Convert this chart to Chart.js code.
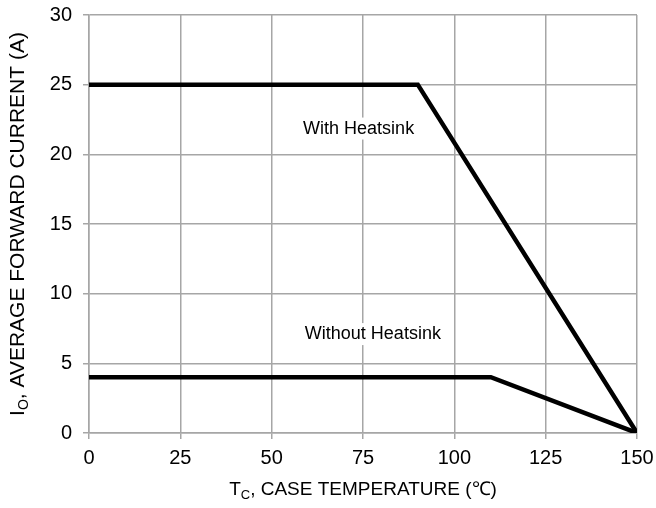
<!DOCTYPE html>
<html><head><meta charset="utf-8">
<script src="https://cdn.jsdelivr.net/npm/chart.js@4/dist/chart.umd.min.js"></script>
<style>html,body{margin:0;padding:0;background:#fff}#wrap{width:656px;height:508px}</style>
</head><body><div id="wrap"><canvas id="c" width="656" height="508"></canvas></div>
<script>
const xTicks = [0, 25, 50, 75, 100, 125, 150];
const yTicks = [0, 5, 10, 15, 20, 25, 30];
const withHeatsinkX = [0, 90, 150];
const withHeatsinkY = [25, 25, 0];
const withoutHeatsinkX = [0, 110, 150];
const withoutHeatsinkY = [4, 4, 0];
const annotationTexts = ['With Heatsink', 'Without Heatsink'];
const annotationX = [73.8, 77.7];
const annotationY = [21.85, 7.1];
const xTitleParts = ['T', 'C', ', CASE TEMPERATURE (\u2103)'];
const yTitleParts = ['I', 'O', ', AVERAGE FORWARD CURRENT (A)'];

const FONT = '"Liberation Sans", Arial, sans-serif';
const toPts = (xs, ys) => xs.map((x, i) => ({x: x, y: ys[i]}));

function drawSubTitle(ctx, parts, size) {
  const big = size + 'px ' + FONT;
  const small = Math.round(size * 0.68) + 'px ' + FONT;
  ctx.font = big; const w0 = ctx.measureText(parts[0]).width;
  ctx.font = small; const w1 = ctx.measureText(parts[1]).width;
  ctx.font = big; const w2 = ctx.measureText(parts[2]).width;
  const total = w0 + w1 + w2;
  let x = -total / 2;
  ctx.textBaseline = 'alphabetic'; ctx.textAlign = 'left';
  ctx.font = big; ctx.fillText(parts[0], x, 0); x += w0;
  ctx.font = small; ctx.fillText(parts[1], x, size * 0.2); x += w1;
  ctx.font = big; ctx.fillText(parts[2], x, 0);
}

const overlay = {
  id: 'overlay',
  afterDatasetsDraw(chart) {
    const ctx = chart.ctx, xs = chart.scales.x, ys = chart.scales.y, ca = chart.chartArea;
    ctx.save();
    ctx.fillStyle = '#000';
    ctx.font = '18px ' + FONT;
    ctx.textAlign = 'center'; ctx.textBaseline = 'middle';
    annotationTexts.forEach((t, i) => {
      const px = xs.getPixelForValue(annotationX[i]);
      const py = ys.getPixelForValue(annotationY[i]);
      const w = ctx.measureText(t).width;
      ctx.fillStyle = '#fff';
      ctx.fillRect(px - w / 2 - 3, py - 11, w + 6, 22);
      ctx.fillStyle = '#000';
      ctx.fillText(t, px, py);
    });
    ctx.save();
    ctx.translate((ca.left + ca.right) / 2, 495);
    drawSubTitle(ctx, xTitleParts, 19);
    ctx.restore();
    ctx.save();
    ctx.translate(24, (ca.top + ca.bottom) / 2);
    ctx.rotate(-Math.PI / 2);
    drawSubTitle(ctx, yTitleParts, 21);
    ctx.restore();
    ctx.restore();
  }
};

new Chart(document.getElementById('c'), {
  type: 'scatter',
  data: {
    datasets: [
      {label: 'With Heatsink', data: toPts(withHeatsinkX, withHeatsinkY), showLine: true,
       borderColor: '#000', borderWidth: 4.5, pointRadius: 0, fill: false, tension: 0},
      {label: 'Without Heatsink', data: toPts(withoutHeatsinkX, withoutHeatsinkY), showLine: true,
       borderColor: '#000', borderWidth: 4.5, pointRadius: 0, fill: false, tension: 0}
    ]
  },
  options: {
    responsive: false, animation: false, devicePixelRatio: 1,
    layout: {padding: {left: 0, right: 19, top: 15, bottom: 0}},
    plugins: {legend: {display: false}, tooltip: {enabled: false}},
    scales: {
      x: {
        type: 'linear', min: 0, max: 150,
        afterBuildTicks: s => { s.ticks = xTicks.map(v => ({value: v})); },
        afterFit: s => { s.height = 75; s.paddingLeft = 0; s.paddingRight = 0; },
        grid: {color: '#a6a6a6', lineWidth: 1.5, tickLength: 6, drawTicks: true},
        border: {color: '#a6a6a6', width: 1.5},
        ticks: {color: '#000', font: {family: FONT, size: 20}, padding: 7, maxRotation: 0}
      },
      y: {
        type: 'linear', min: 0, max: 30,
        afterBuildTicks: s => { s.ticks = yTicks.map(v => ({value: v})); },
        afterFit: s => { s.width = 89; s.paddingTop = 0; s.paddingBottom = 0; },
        grid: {color: '#a6a6a6', lineWidth: 1.5, tickLength: 6, drawTicks: true},
        border: {color: '#a6a6a6', width: 1.5},
        ticks: {color: '#000', font: {family: FONT, size: 20}, padding: 11}
      }
    }
  },
  plugins: [overlay]
});
</script>
</body></html>
